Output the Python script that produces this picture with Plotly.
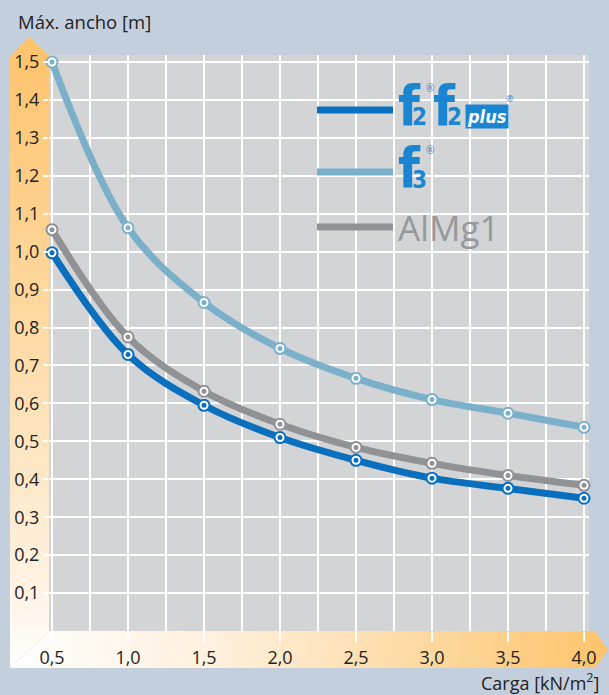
import base64
import plotly.graph_objects as go

# ---- data ----
carga = [0.5, 1.0, 1.5, 2.0, 2.5, 3.0, 3.5, 4.0]
f2_vals = [0.997, 0.729, 0.595, 0.510, 0.450, 0.403, 0.376, 0.350]
f3_vals = [1.500, 1.063, 0.866, 0.745, 0.666, 0.610, 0.574, 0.537]
almg1_vals = [1.058, 0.775, 0.632, 0.545, 0.484, 0.442, 0.410, 0.384]
x_ticks = [0.5, 1.0, 1.5, 2.0, 2.5, 3.0, 3.5, 4.0]
x_minor = [0.75, 1.25, 1.75, 2.25, 2.75, 3.25, 3.75]
y_ticks = [0.1, 0.2, 0.3, 0.4, 0.5, 0.6, 0.7, 0.8, 0.9, 1.0, 1.1, 1.2, 1.3, 1.4, 1.5]

C_F2 = "#0a6fbd"
C_F3 = "#7bb0ca"
C_AL = "#919296"
C_LOGO = "#1a86d2"
BG = "#c3cfdd"
PLOT = "#d3d4d6"
FONT = "Open Sans"

W, H = 609, 695
L, R, T, B = 49, 589, 55, 631  # plot area in px

def px(x):
    return (x - L) / (R - L)

def py(y):
    return (B - y) / (B - T)

fig = go.Figure()

for vals, col in [(f3_vals, C_F3), (almg1_vals, C_AL), (f2_vals, C_F2)]:
    fig.add_trace(go.Scatter(
        x=carga, y=vals, mode="lines+markers",
        line=dict(color=col, width=7, shape="spline", smoothing=1.0),
        marker=dict(color=col, size=13),
        showlegend=False, cliponaxis=False, hoverinfo="skip"))
    fig.add_trace(go.Scatter(
        x=carga, y=vals, mode="markers",
        marker=dict(symbol="circle-open", color="white", size=7, line=dict(width=2, color="white")),
        showlegend=False, cliponaxis=False, hoverinfo="skip"))

# ---- axis bands as an SVG background image ----
svg = f'''<svg xmlns="http://www.w3.org/2000/svg" width="{W}" height="{H}" viewBox="0 0 {W} {H}">
<defs>
<linearGradient id="gy" x1="0" y1="0" x2="0" y2="1">
<stop offset="0" stop-color="#fec36c"/>
<stop offset="0.45" stop-color="#fed9a2"/>
<stop offset="0.85" stop-color="#fff1df"/>
<stop offset="1" stop-color="#ffffff"/>
</linearGradient>
<linearGradient id="gx" x1="0" y1="0" x2="1" y2="0">
<stop offset="0" stop-color="#ffffff"/>
<stop offset="0.35" stop-color="#fff0dc"/>
<stop offset="1" stop-color="#fec46c"/>
</linearGradient>
</defs>
<polygon points="10,57 29,37 49,55 49,631 10,668" fill="url(#gy)"/>
<polygon points="10,668 49,631 595,631 608,650 595,668" fill="url(#gx)"/>
<line x1="10" y1="668" x2="49" y2="631" stroke="#f4eee6" stroke-width="1"/>
</svg>'''
src = "data:image/svg+xml;base64," + base64.b64encode(svg.encode()).decode()
fig.add_layout_image(dict(source=src, xref="paper", yref="paper",
                          x=px(0), y=py(0), sizex=px(W) - px(0), sizey=py(0) - py(H),
                          xanchor="left", yanchor="top", sizing="stretch", layer="below"))

# ---- legend (decoration) ----
for yy, col in [(110, C_F2), (172, C_F3), (227, C_AL)]:
    fig.add_shape(type="line", xref="paper", yref="paper",
                  x0=px(317), x1=px(393), y0=py(yy), y1=py(yy),
                  line=dict(color=col, width=7))

def txt(x, y, text, size, color, xanchor="left", family=FONT, **kw):
    fig.add_annotation(xref="paper", yref="paper", x=px(x), y=py(y), xanchor=xanchor,
                       yanchor="middle", text=text, showarrow=False,
                       font=dict(family=family, size=size, color=color), **kw)

LOGO_FAM = "DejaVu Sans Condensed, DejaVu Sans"
# f2 logo
txt(396, 105, "<b>f</b>", 56, C_LOGO, family=LOGO_FAM)
txt(410, 117, "<b>2</b>", 24, C_LOGO, family=LOGO_FAM)
txt(424, 88, "®", 10, C_LOGO)
# f2 plus logo
txt(431, 105, "<b>f</b>", 56, C_LOGO, family=LOGO_FAM)
txt(445, 117, "<b>2</b>", 24, C_LOGO, family=LOGO_FAM)
txt(509, 117, "<b><i>plus</i></b>", 18, "white", xanchor="right", family=LOGO_FAM,
    bgcolor=C_LOGO, borderpad=1)
txt(504, 99, "®", 9, C_LOGO)
# f3 logo
txt(396, 167, "<b>f</b>", 56, C_LOGO, family=LOGO_FAM)
txt(410, 180, "<b>3</b>", 24, C_LOGO, family=LOGO_FAM)
txt(424, 150, "®", 10, C_LOGO)
# AlMg1
txt(396, 227, "AlMg1", 35, "#97989b")

# ---- axis titles ----
txt(16, 21, "Máx. ancho [m]", 18.5, "#222222")
txt(601, 682, "Carga [kN/m<sup>2</sup>]", 18, "#222222", xanchor="right")

fig.update_layout(
    width=W, height=H,
    margin=dict(l=L, r=W - R, t=T, b=H - B),
    paper_bgcolor=BG, plot_bgcolor=PLOT,
    separators=",.",
    font=dict(family=FONT, size=18, color="#222222"),
    xaxis=dict(range=[0.5 - 3 / 152, 4.0 + 5 / 152], tickvals=x_ticks, tickformat=".1f",
               showgrid=True, gridcolor="white", gridwidth=1.5, zeroline=False,
               ticks="outside", ticklen=10, tickcolor="white", tickwidth=1.5,
               showline=False,
               minor=dict(tickvals=x_minor, showgrid=True, gridcolor="white", gridwidth=1.5, ticks="")),
    yaxis=dict(range=[0, 1.5 + 7 / 380], tickvals=y_ticks, tickformat=".1f",
               showgrid=True, gridcolor="white", gridwidth=1.5, zeroline=False,
               ticks="outside", ticklen=5, tickcolor="white", tickwidth=1.5,
               showline=False),
)

fig.write_html("out.html", config={"displayModeBar": False},
               post_script="document.body.style.margin='0';document.body.style.overflow='hidden';")
